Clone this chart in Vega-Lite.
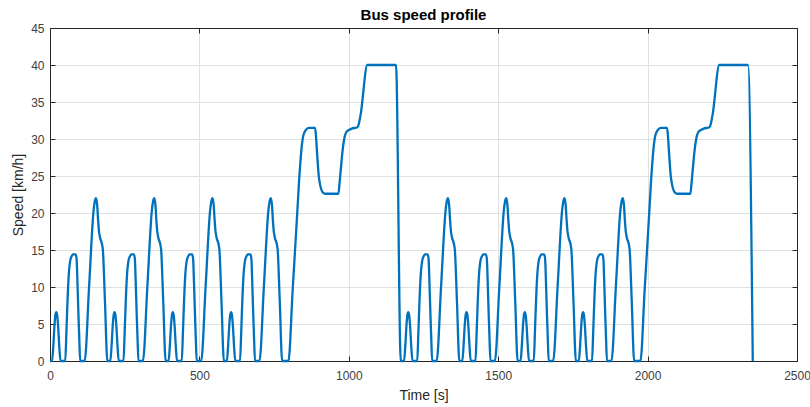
{
  "$schema": "https://vega.github.io/schema/vega-lite/v6.json",
  "width": 747,
  "height": 333,
  "autosize": {"type": "none"},
  "padding": {"left": 50, "top": 28, "right": 13, "bottom": 46},
  "background": "white",
  "config": {
    "view": {"stroke": null},
    "font": "Liberation Sans"
  },
  "title": {
    "text": "Bus speed profile",
    "font": "Liberation Sans",
    "fontSize": 15,
    "fontWeight": "bold",
    "color": "#000000",
    "anchor": "middle",
    "baseline": "alphabetic",
    "offset": 6,
    "dy": 19
  },
  "data": {
    "values": [
      {"t": 0, "v": 0},
      {"t": 7, "v": 0}, {"t": 11, "v": 2}, {"t": 15, "v": 4.8}, {"t": 18, "v": 6.2}, {"t": 21, "v": 6.6}, {"t": 24, "v": 6.2}, {"t": 27, "v": 4.8}, {"t": 31, "v": 2}, {"t": 35, "v": 0},
      {"t": 51, "v": 0}, {"t": 55, "v": 4}, {"t": 59, "v": 8.5}, {"t": 63, "v": 11.8}, {"t": 67, "v": 13.4}, {"t": 72, "v": 14.1}, {"t": 77, "v": 14.4}, {"t": 86, "v": 14.4}, {"t": 89, "v": 13.8}, {"t": 92, "v": 10.5}, {"t": 95, "v": 6.5}, {"t": 98, "v": 3}, {"t": 101, "v": 0},
      {"t": 116, "v": 0}, {"t": 131, "v": 10.2}, {"t": 146, "v": 20.4}, {"t": 150, "v": 21.6}, {"t": 154, "v": 22}, {"t": 158, "v": 21}, {"t": 161, "v": 19}, {"t": 164, "v": 17.5}, {"t": 168, "v": 16.6}, {"t": 174, "v": 15.8}, {"t": 177, "v": 15}, {"t": 184, "v": 8}, {"t": 192, "v": 0},
      {"t": 202, "v": 0}, {"t": 206, "v": 2}, {"t": 210, "v": 4.8}, {"t": 213, "v": 6.2}, {"t": 216, "v": 6.6}, {"t": 219, "v": 6.2}, {"t": 222, "v": 4.8}, {"t": 226, "v": 2}, {"t": 230, "v": 0},
      {"t": 246, "v": 0}, {"t": 250, "v": 4}, {"t": 254, "v": 8.5}, {"t": 258, "v": 11.8}, {"t": 262, "v": 13.4}, {"t": 267, "v": 14.1}, {"t": 272, "v": 14.4}, {"t": 281, "v": 14.4}, {"t": 284, "v": 13.8}, {"t": 287, "v": 10.5}, {"t": 290, "v": 6.5}, {"t": 293, "v": 3}, {"t": 296, "v": 0},
      {"t": 311, "v": 0}, {"t": 326, "v": 10.2}, {"t": 341, "v": 20.4}, {"t": 345, "v": 21.6}, {"t": 349, "v": 22}, {"t": 353, "v": 21}, {"t": 356, "v": 19}, {"t": 359, "v": 17.5}, {"t": 363, "v": 16.6}, {"t": 369, "v": 15.8}, {"t": 372, "v": 15}, {"t": 379, "v": 8}, {"t": 387, "v": 0},
      {"t": 397, "v": 0}, {"t": 401, "v": 2}, {"t": 405, "v": 4.8}, {"t": 408, "v": 6.2}, {"t": 411, "v": 6.6}, {"t": 414, "v": 6.2}, {"t": 417, "v": 4.8}, {"t": 421, "v": 2}, {"t": 425, "v": 0},
      {"t": 441, "v": 0}, {"t": 445, "v": 4}, {"t": 449, "v": 8.5}, {"t": 453, "v": 11.8}, {"t": 457, "v": 13.4}, {"t": 462, "v": 14.1}, {"t": 467, "v": 14.4}, {"t": 476, "v": 14.4}, {"t": 479, "v": 13.8}, {"t": 482, "v": 10.5}, {"t": 485, "v": 6.5}, {"t": 488, "v": 3}, {"t": 491, "v": 0},
      {"t": 506, "v": 0}, {"t": 521, "v": 10.2}, {"t": 536, "v": 20.4}, {"t": 540, "v": 21.6}, {"t": 544, "v": 22}, {"t": 548, "v": 21}, {"t": 551, "v": 19}, {"t": 554, "v": 17.5}, {"t": 558, "v": 16.6}, {"t": 564, "v": 15.8}, {"t": 567, "v": 15}, {"t": 574, "v": 8}, {"t": 582, "v": 0},
      {"t": 592, "v": 0}, {"t": 596, "v": 2}, {"t": 600, "v": 4.8}, {"t": 603, "v": 6.2}, {"t": 606, "v": 6.6}, {"t": 609, "v": 6.2}, {"t": 612, "v": 4.8}, {"t": 616, "v": 2}, {"t": 620, "v": 0},
      {"t": 636, "v": 0}, {"t": 640, "v": 4}, {"t": 644, "v": 8.5}, {"t": 648, "v": 11.8}, {"t": 652, "v": 13.4}, {"t": 657, "v": 14.1}, {"t": 662, "v": 14.4}, {"t": 671, "v": 14.4}, {"t": 674, "v": 13.8}, {"t": 677, "v": 10.5}, {"t": 680, "v": 6.5}, {"t": 683, "v": 3}, {"t": 686, "v": 0},
      {"t": 701, "v": 0}, {"t": 716, "v": 10.2}, {"t": 731, "v": 20.4}, {"t": 735, "v": 21.6}, {"t": 739, "v": 22}, {"t": 743, "v": 21}, {"t": 746, "v": 19}, {"t": 749, "v": 17.5}, {"t": 753, "v": 16.6}, {"t": 759, "v": 15.8}, {"t": 762, "v": 15}, {"t": 769, "v": 8}, {"t": 777, "v": 0},
      {"t": 798, "v": 0}, {"t": 812, "v": 9.5}, {"t": 826, "v": 19}, {"t": 836, "v": 25.8}, {"t": 842, "v": 28.8}, {"t": 848, "v": 30.5}, {"t": 856, "v": 31.2}, {"t": 866, "v": 31.5}, {"t": 887, "v": 31.5}, {"t": 890, "v": 30.5}, {"t": 894, "v": 28}, {"t": 899, "v": 25.2}, {"t": 904, "v": 23.8}, {"t": 911, "v": 22.9}, {"t": 920, "v": 22.6}, {"t": 965, "v": 22.6}, {"t": 969, "v": 24}, {"t": 973, "v": 25.8}, {"t": 978, "v": 28}, {"t": 983, "v": 29.6}, {"t": 993, "v": 31}, {"t": 1010, "v": 31.4}, {"t": 1029, "v": 31.6}, {"t": 1035, "v": 32.3}, {"t": 1040, "v": 33.4}, {"t": 1062, "v": 40}, {"t": 1158, "v": 40}, {"t": 1174, "v": 0},
      {"t": 1185, "v": 0}, {"t": 1189, "v": 2}, {"t": 1193, "v": 4.8}, {"t": 1196, "v": 6.2}, {"t": 1199, "v": 6.6}, {"t": 1202, "v": 6.2}, {"t": 1205, "v": 4.8}, {"t": 1209, "v": 2}, {"t": 1213, "v": 0},
      {"t": 1229, "v": 0}, {"t": 1233, "v": 4}, {"t": 1237, "v": 8.5}, {"t": 1241, "v": 11.8}, {"t": 1245, "v": 13.4}, {"t": 1250, "v": 14.1}, {"t": 1255, "v": 14.4}, {"t": 1264, "v": 14.4}, {"t": 1267, "v": 13.8}, {"t": 1270, "v": 10.5}, {"t": 1273, "v": 6.5}, {"t": 1276, "v": 3}, {"t": 1279, "v": 0},
      {"t": 1294, "v": 0}, {"t": 1309, "v": 10.2}, {"t": 1324, "v": 20.4}, {"t": 1328, "v": 21.6}, {"t": 1332, "v": 22}, {"t": 1336, "v": 21}, {"t": 1339, "v": 19}, {"t": 1342, "v": 17.5}, {"t": 1346, "v": 16.6}, {"t": 1352, "v": 15.8}, {"t": 1355, "v": 15}, {"t": 1362, "v": 8}, {"t": 1370, "v": 0},
      {"t": 1380, "v": 0}, {"t": 1384, "v": 2}, {"t": 1388, "v": 4.8}, {"t": 1391, "v": 6.2}, {"t": 1394, "v": 6.6}, {"t": 1397, "v": 6.2}, {"t": 1400, "v": 4.8}, {"t": 1404, "v": 2}, {"t": 1408, "v": 0},
      {"t": 1424, "v": 0}, {"t": 1428, "v": 4}, {"t": 1432, "v": 8.5}, {"t": 1436, "v": 11.8}, {"t": 1440, "v": 13.4}, {"t": 1445, "v": 14.1}, {"t": 1450, "v": 14.4}, {"t": 1459, "v": 14.4}, {"t": 1462, "v": 13.8}, {"t": 1465, "v": 10.5}, {"t": 1468, "v": 6.5}, {"t": 1471, "v": 3}, {"t": 1474, "v": 0},
      {"t": 1489, "v": 0}, {"t": 1504, "v": 10.2}, {"t": 1519, "v": 20.4}, {"t": 1523, "v": 21.6}, {"t": 1527, "v": 22}, {"t": 1531, "v": 21}, {"t": 1534, "v": 19}, {"t": 1537, "v": 17.5}, {"t": 1541, "v": 16.6}, {"t": 1547, "v": 15.8}, {"t": 1550, "v": 15}, {"t": 1557, "v": 8}, {"t": 1565, "v": 0},
      {"t": 1575, "v": 0}, {"t": 1579, "v": 2}, {"t": 1583, "v": 4.8}, {"t": 1586, "v": 6.2}, {"t": 1589, "v": 6.6}, {"t": 1592, "v": 6.2}, {"t": 1595, "v": 4.8}, {"t": 1599, "v": 2}, {"t": 1603, "v": 0},
      {"t": 1619, "v": 0}, {"t": 1623, "v": 4}, {"t": 1627, "v": 8.5}, {"t": 1631, "v": 11.8}, {"t": 1635, "v": 13.4}, {"t": 1640, "v": 14.1}, {"t": 1645, "v": 14.4}, {"t": 1654, "v": 14.4}, {"t": 1657, "v": 13.8}, {"t": 1660, "v": 10.5}, {"t": 1663, "v": 6.5}, {"t": 1666, "v": 3}, {"t": 1669, "v": 0},
      {"t": 1684, "v": 0}, {"t": 1699, "v": 10.2}, {"t": 1714, "v": 20.4}, {"t": 1718, "v": 21.6}, {"t": 1722, "v": 22}, {"t": 1726, "v": 21}, {"t": 1729, "v": 19}, {"t": 1732, "v": 17.5}, {"t": 1736, "v": 16.6}, {"t": 1742, "v": 15.8}, {"t": 1745, "v": 15}, {"t": 1752, "v": 8}, {"t": 1760, "v": 0},
      {"t": 1770, "v": 0}, {"t": 1774, "v": 2}, {"t": 1778, "v": 4.8}, {"t": 1781, "v": 6.2}, {"t": 1784, "v": 6.6}, {"t": 1787, "v": 6.2}, {"t": 1790, "v": 4.8}, {"t": 1794, "v": 2}, {"t": 1798, "v": 0},
      {"t": 1814, "v": 0}, {"t": 1818, "v": 4}, {"t": 1822, "v": 8.5}, {"t": 1826, "v": 11.8}, {"t": 1830, "v": 13.4}, {"t": 1835, "v": 14.1}, {"t": 1840, "v": 14.4}, {"t": 1849, "v": 14.4}, {"t": 1852, "v": 13.8}, {"t": 1855, "v": 10.5}, {"t": 1858, "v": 6.5}, {"t": 1861, "v": 3}, {"t": 1864, "v": 0},
      {"t": 1879, "v": 0}, {"t": 1894, "v": 10.2}, {"t": 1909, "v": 20.4}, {"t": 1913, "v": 21.6}, {"t": 1917, "v": 22}, {"t": 1921, "v": 21}, {"t": 1924, "v": 19}, {"t": 1927, "v": 17.5}, {"t": 1931, "v": 16.6}, {"t": 1937, "v": 15.8}, {"t": 1940, "v": 15}, {"t": 1947, "v": 8}, {"t": 1955, "v": 0},
      {"t": 1976, "v": 0}, {"t": 1990, "v": 9.5}, {"t": 2004, "v": 19}, {"t": 2014, "v": 25.8}, {"t": 2020, "v": 28.8}, {"t": 2026, "v": 30.5}, {"t": 2034, "v": 31.2}, {"t": 2044, "v": 31.5}, {"t": 2065, "v": 31.5}, {"t": 2068, "v": 30.5}, {"t": 2072, "v": 28}, {"t": 2077, "v": 25.2}, {"t": 2082, "v": 23.8}, {"t": 2089, "v": 22.9}, {"t": 2098, "v": 22.6}, {"t": 2143, "v": 22.6}, {"t": 2147, "v": 24}, {"t": 2151, "v": 25.8}, {"t": 2156, "v": 28}, {"t": 2161, "v": 29.6}, {"t": 2171, "v": 31}, {"t": 2188, "v": 31.4}, {"t": 2207, "v": 31.6}, {"t": 2213, "v": 32.3}, {"t": 2218, "v": 33.4}, {"t": 2240, "v": 40}, {"t": 2336, "v": 40}, {"t": 2352, "v": 0}
    ]
  },
  "layer": [
    {
      "mark": {"type": "line", "opacity": 0},
      "encoding": {
        "x": {
          "field": "t", "type": "quantitative",
          "scale": {"domain": [0, 2500], "nice": false, "zero": false},
          "axis": {
            "orient": "top", "values": [0, 500, 1000, 1500, 2000, 2500],
            "labels": false, "grid": false, "title": null,
            "domainColor": "#262626", "domainWidth": 1,
            "tickColor": "#262626", "tickSize": -5, "tickWidth": 1
          }
        },
        "y": {
          "field": "v", "type": "quantitative",
          "scale": {"domain": [0, 45], "nice": false, "zero": false},
          "axis": {
            "orient": "right", "values": [0, 5, 10, 15, 20, 25, 30, 35, 40, 45],
            "labels": false, "grid": false, "title": null,
            "domainColor": "#262626", "domainWidth": 1,
            "tickColor": "#262626", "tickSize": -5, "tickWidth": 1
          }
        }
      }
    },
    {
      "mark": {"type": "line", "color": "#0072BD", "strokeWidth": 2.3, "interpolate": "monotone"},
      "encoding": {
        "x": {
          "field": "t", "type": "quantitative",
          "scale": {"domain": [0, 2500], "nice": false, "zero": false},
          "axis": {
            "orient": "bottom", "values": [0, 500, 1000, 1500, 2000, 2500],
            "format": "d",
            "title": "Time [s]",
            "titleFont": "Liberation Sans", "titleFontSize": 14, "titleFontWeight": "normal",
            "titleColor": "#262626", "titleBaseline": "alphabetic", "titleY": 38,
            "labelFont": "Liberation Sans", "labelFontSize": 12, "labelColor": "#404040",
            "labelPadding": 14, "labelFlush": false,
            "grid": true, "gridColor": "#e0e0e0", "gridWidth": 1,
            "domainColor": "#262626", "domainWidth": 1,
            "tickColor": "#262626", "tickSize": -5, "tickWidth": 1
          }
        },
        "y": {
          "field": "v", "type": "quantitative",
          "scale": {"domain": [0, 45], "nice": false, "zero": false},
          "axis": {
            "orient": "left", "values": [0, 5, 10, 15, 20, 25, 30, 35, 40, 45],
            "format": "d",
            "title": "Speed [km/h]",
            "titleFont": "Liberation Sans", "titleFontSize": 14, "titleFontWeight": "normal",
            "titleColor": "#262626", "titleBaseline": "alphabetic", "titleAngle": 270,
            "titleX": -27.5, "titleY": 166.5, "titleAlign": "center",
            "labelFont": "Liberation Sans", "labelFontSize": 12, "labelColor": "#404040",
            "labelPadding": 11, "labelFlush": false,
            "grid": true, "gridColor": "#e0e0e0", "gridWidth": 1,
            "domainColor": "#262626", "domainWidth": 1,
            "tickColor": "#262626", "tickSize": -5, "tickWidth": 1
          }
        }
      }
    }
  ],
  "resolve": {"axis": {"x": "independent", "y": "independent"}}
}
